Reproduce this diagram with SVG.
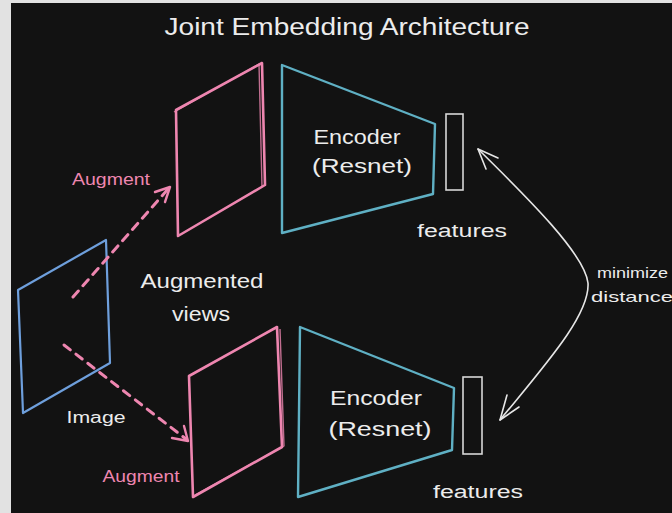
<svg xmlns="http://www.w3.org/2000/svg" width="672" height="513" viewBox="0 0 672 513">
<defs>
<style>
.bg{fill:#121212}
.pink{fill:none;stroke:#ee86b0;stroke-width:2.6;stroke-linejoin:round;stroke-linecap:round}
.pink2{fill:none;stroke:#ee86b0;stroke-width:1.4;stroke-linejoin:round;opacity:0.8}
.blue{fill:none;stroke:#6e9fdc;stroke-width:2.2;stroke-linejoin:round}
.cyan{fill:none;stroke:#5fb0c4;stroke-width:2.4;stroke-linejoin:round}
.feat{fill:none;stroke:#d8d8d8;stroke-width:1.6}
.dash{fill:none;stroke:#ee86b0;stroke-width:3;stroke-dasharray:8 7;stroke-linecap:round}
.head{fill:none;stroke:#ee86b0;stroke-width:2.4;stroke-linecap:round;stroke-linejoin:round}
.wline{fill:none;stroke:#e6e6e6;stroke-width:1.6;stroke-linecap:round;stroke-linejoin:round}
text{font-family:"Liberation Sans","DejaVu Sans",sans-serif;fill:#ececec}
.pt{fill:#ee86b0}
</style>
</defs>
<rect x="0" y="0" width="672" height="513" fill="#e2e2e2"/>
<rect class="bg" x="11" y="3" width="661" height="510"/>

<g id="title">
<text x="347" y="35" font-size="23" text-anchor="middle" textLength="365" lengthAdjust="spacingAndGlyphs">Joint Embedding Architecture</text>
</g>

<g id="image">
<polygon class="blue" points="18,290 106,240 110,363 23,413"/>
<text x="96" y="423" font-size="16" text-anchor="middle" textLength="59" lengthAdjust="spacingAndGlyphs">Image</text>
</g>

<g id="view-top">
<polygon class="pink" points="176,110 262,63 265,185 178,236"/>
<polyline class="pink2" points="174,112 259,64 262,187"/>
</g>

<g id="view-bottom">
<polygon class="pink" points="189,376 277,327 282,447 193,497"/>
<polyline class="pink2" points="280,329 284,446 195,495"/>
</g>

<g id="encoder-top">
<polygon class="cyan" points="282,65 435,124 433,194 282,233"/>
<text x="357" y="144" font-size="20" text-anchor="middle" textLength="87" lengthAdjust="spacingAndGlyphs">Encoder</text>
<text x="362" y="173" font-size="20" text-anchor="middle" textLength="100" lengthAdjust="spacingAndGlyphs">(Resnet)</text>
</g>

<g id="encoder-bottom">
<polygon class="cyan" points="300,327 454,388 452,450 298,497"/>
<text x="376" y="405" font-size="20" text-anchor="middle" textLength="92" lengthAdjust="spacingAndGlyphs">Encoder</text>
<text x="380" y="436" font-size="20" text-anchor="middle" textLength="103" lengthAdjust="spacingAndGlyphs">(Resnet)</text>
</g>

<g id="features-top">
<rect class="feat" x="446" y="114" width="17" height="76"/>
<text x="462" y="237" font-size="18" text-anchor="middle" textLength="90" lengthAdjust="spacingAndGlyphs">features</text>
</g>

<g id="features-bottom">
<rect class="feat" x="463" y="377" width="19" height="77"/>
<text x="478" y="498" font-size="18" text-anchor="middle" textLength="90" lengthAdjust="spacingAndGlyphs">features</text>
</g>

<g id="labels">
<text class="pt" x="111" y="185" font-size="16" text-anchor="middle" textLength="78" lengthAdjust="spacingAndGlyphs">Augment</text>
<text class="pt" x="141" y="482" font-size="16" text-anchor="middle" textLength="77" lengthAdjust="spacingAndGlyphs">Augment</text>
<text x="202" y="288" font-size="20" text-anchor="middle" textLength="123" lengthAdjust="spacingAndGlyphs">Augmented</text>
<text x="201" y="321" font-size="20" text-anchor="middle" textLength="58" lengthAdjust="spacingAndGlyphs">views</text>
<text x="597" y="278" font-size="15" textLength="71" lengthAdjust="spacingAndGlyphs">minimize</text>
<text x="591" y="302" font-size="15" textLength="82" lengthAdjust="spacingAndGlyphs">distance</text>
</g>

<g id="connectors">
<path class="dash" d="M73,297 L168,189"/>
<polyline class="head" points="155,192 170,187 165,202"/>
<path class="dash" d="M64,345 L186,439"/>
<polyline class="head" points="172,438 188,441 184,426"/>
<path class="wline" d="M478,149 C530,200 585,255 588,283 C590,315 545,365 500,420"/>
<polyline class="wline" points="498,158 478,149 486,169"/>
<polyline class="wline" points="507,395 500,420 519,407"/>
</g>
</svg>
